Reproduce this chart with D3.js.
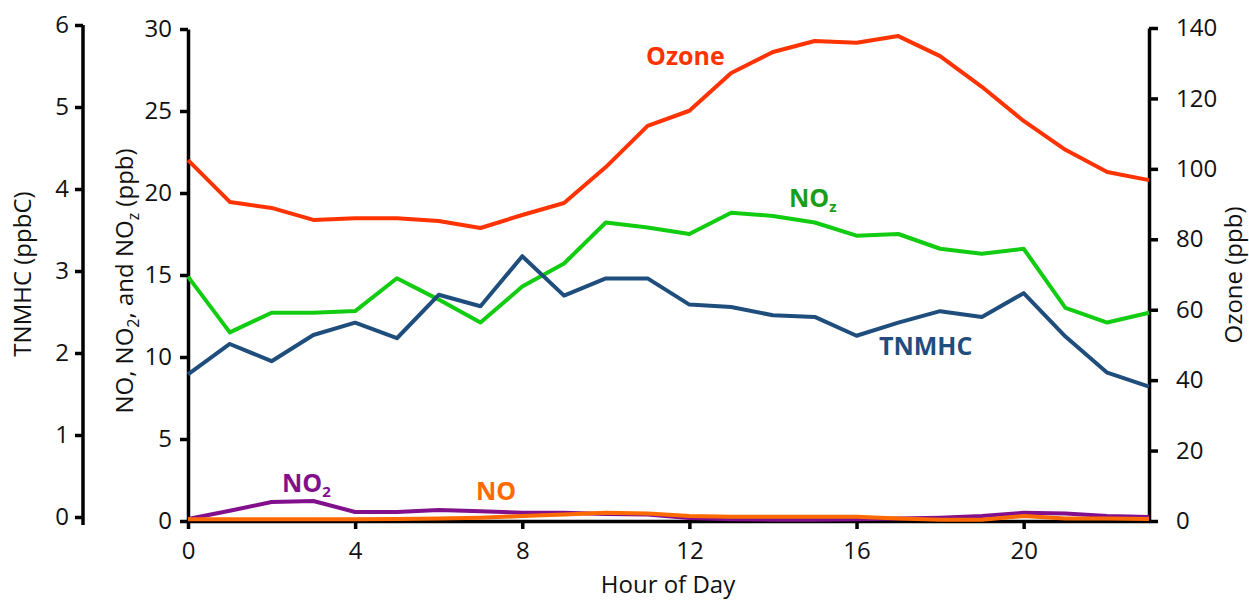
<!DOCTYPE html>
<html>
<head>
<meta charset="utf-8">
<script src="https://cdn.jsdelivr.net/npm/d3@7"></script>
<style>
  body { margin: 0; background: #fff; }
  svg { font-family: "Open Sans", sans-serif; }
  .axis path, .axis line { stroke: #000; stroke-width: 3.5px; }
  .axis text { font-size: 24px; fill: #111; font-family: "Open Sans", sans-serif; }
  .title { font-size: 24px; fill: #111; }
  .lbl { font-size: 25px; font-weight: bold; }
</style>
</head>
<body>
<svg id="chart" width="1249" height="600"></svg>
<script>
// hours 0..23
var hours = d3.range(0, 24);

var ozone = [102.5, 90.6, 88.9, 85.5, 86, 86, 85.2, 83.2, 86.9, 90.3, 100.5, 112.2,
             116.5, 127.2, 133.2, 136.3, 135.8, 137.7, 132, 123.3, 113.6, 105.4, 99.1, 96.8];
var noz = [14.9, 11.5, 12.7, 12.7, 12.8, 14.8, 13.5, 12.1, 14.3, 15.7, 18.2, 17.9,
           17.5, 18.8, 18.6, 18.2, 17.4, 17.5, 16.6, 16.3, 16.6, 13.0, 12.1, 12.7];
var tnmhc = [1.74, 2.11, 1.90, 2.22, 2.37, 2.18, 2.71, 2.57, 3.18, 2.70, 2.91, 2.91,
             2.59, 2.56, 2.46, 2.44, 2.21, 2.37, 2.51, 2.44, 2.73, 2.20, 1.76, 1.59];
var no2 = [0.12, 0.62, 1.16, 1.22, 0.55, 0.55, 0.67, 0.6, 0.5, 0.5, 0.42, 0.4,
           0.18, 0.1, 0.08, 0.08, 0.1, 0.15, 0.2, 0.3, 0.5, 0.45, 0.3, 0.25];
var no = [0.1, 0.1, 0.1, 0.1, 0.1, 0.12, 0.15, 0.2, 0.3, 0.4, 0.5, 0.45,
          0.3, 0.26, 0.26, 0.26, 0.26, 0.15, 0.08, 0.08, 0.3, 0.15, 0.15, 0.12];

var xTicks = [0, 4, 8, 12, 16, 20];
var tnmhcTicks = [0, 1, 2, 3, 4, 5, 6];
var noTicks = [0, 5, 10, 15, 20, 25, 30];
var ozoneTicks = [0, 20, 40, 60, 80, 100, 120, 140];

var svg = d3.select("#chart");

var x = d3.scaleLinear().domain([0, 23]).range([188, 1149]);
var yNO = d3.scaleLinear().domain([0, 30]).range([521, 29]);
var yT = d3.scaleLinear().domain([0, 6]).range([517, 25]);
var yO = d3.scaleLinear().domain([0, 140]).range([521, 28]);

// axes
var gT = svg.append("g").attr("class", "axis").attr("transform", "translate(83,0)")
  .call(d3.axisLeft(yT).tickValues(tnmhcTicks).tickFormat(d3.format("d"))
    .tickSize(8).tickSizeOuter(0).tickPadding(6));
// the TNMHC axis line runs a little below its zero
gT.select(".domain").attr("d", "M0,25V525");

svg.append("g").attr("class", "axis").attr("transform", "translate(188,0)")
  .call(d3.axisLeft(yNO).tickValues(noTicks).tickSize(8).tickSizeOuter(0).tickPadding(8));
svg.append("g").attr("class", "axis").attr("transform", "translate(1149,0)")
  .call(d3.axisRight(yO).tickValues(ozoneTicks).tickSize(9).tickSizeOuter(0).tickPadding(18));
svg.append("g").attr("class", "axis").attr("transform", "translate(0,521)")
  .call(d3.axisBottom(x).tickValues(xTicks).tickSize(8).tickSizeOuter(0).tickPadding(13));

// axis titles
svg.append("text").attr("class", "title")
  .attr("transform", "translate(31,274) rotate(-90)")
  .attr("text-anchor", "middle").text("TNMHC (ppbC)");

var t2 = svg.append("text").attr("class", "title")
  .attr("transform", "translate(133,281) rotate(-90)")
  .attr("text-anchor", "middle");
t2.append("tspan").text("NO, NO");
t2.append("tspan").attr("font-size", "16px").attr("dy", 6).text("2");
t2.append("tspan").attr("dy", -6).text(", and NO");
t2.append("tspan").attr("font-size", "16px").attr("dy", 6).text("z");
t2.append("tspan").attr("dy", -6).text(" (ppb)");

svg.append("text").attr("class", "title")
  .attr("transform", "translate(1242,275) rotate(-90)")
  .attr("text-anchor", "middle").text("Ozone (ppb)");

svg.append("text").attr("class", "title")
  .attr("x", 668).attr("y", 593)
  .attr("text-anchor", "middle").text("Hour of Day");

// lines
var series = [
  { v: ozone, y: yO, c: "#ff3300" },
  { v: noz, y: yNO, c: "#11cc11" },
  { v: tnmhc, y: yT, c: "#1f4e7d" },
  { v: no2, y: yNO, c: "#82108c" },
  { v: no, y: yNO, c: "#ff6a00" }
];

series.forEach(function(s) {
  var line = d3.line()
    .x(function(d, i) { return x(hours[i]); })
    .y(function(d) { return s.y(d); });
  svg.append("path")
    .datum(s.v)
    .attr("fill", "none")
    .attr("stroke", s.c)
    .attr("stroke-width", 4)
    .attr("stroke-linejoin", "round")
    .attr("d", line);
});

// series labels
svg.append("text").attr("class", "lbl").attr("x", 646).attr("y", 65)
  .attr("fill", "#ff3300").text("Ozone");

var lz = svg.append("text").attr("class", "lbl").attr("x", 789).attr("y", 207).attr("fill", "#1a9e1a");
lz.append("tspan").text("NO");
lz.append("tspan").attr("font-size", "15px").attr("dy", 5).text("z");

svg.append("text").attr("class", "lbl").attr("x", 879).attr("y", 355)
  .attr("fill", "#1f4e7d").text("TNMHC");

var l2 = svg.append("text").attr("class", "lbl").attr("x", 282).attr("y", 492).attr("fill", "#82108c");
l2.append("tspan").text("NO");
l2.append("tspan").attr("font-size", "15px").attr("dy", 5).text("2");

svg.append("text").attr("class", "lbl").attr("x", 476).attr("y", 500)
  .attr("fill", "#ff6a00").text("NO");
</script>
</body>
</html>
